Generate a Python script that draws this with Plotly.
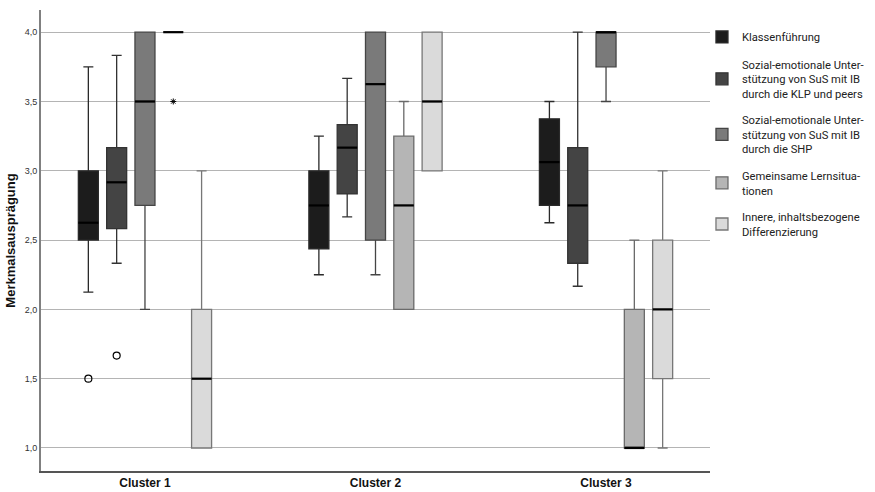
import plotly.graph_objects as go

clusters = ["Cluster 1", "Cluster 2", "Cluster 3"]
series_names = [
    "Klassenführung",
    "Sozial-emotionale Unter-<br>stützung von SuS mit IB<br>durch die KLP und peers",
    "Sozial-emotionale Unter-<br>stützung von SuS mit IB<br>durch die SHP",
    "Gemeinsame Lernsitua-<br>tionen",
    "Innere, inhaltsbezogene<br>Differenzierung",
]
fill_colors = ["#1c1c1c", "#444444", "#7a7a7a", "#b5b5b5", "#dadada"]
line_colors = ["#2a2a2a", "#333333", "#454545", "#6a6a6a", "#777777"]

# per series, values for Cluster 1, 2, 3
lower_whisker = [
    [2.125, 2.25, 2.625],
    [2.333, 2.667, 2.167],
    [2.0, 2.25, 3.5],
    [4.0, 2.0, 1.0],
    [1.0, 3.0, 1.0],
]
q1 = [
    [2.5, 2.4375, 2.75],
    [2.583, 2.833, 2.333],
    [2.75, 2.5, 3.75],
    [4.0, 2.0, 1.0],
    [1.0, 3.0, 1.5],
]
median = [
    [2.625, 2.75, 3.0625],
    [2.917, 3.167, 2.75],
    [3.5, 3.625, 4.0],
    [4.0, 2.75, 1.0],
    [1.5, 3.5, 2.0],
]
q3 = [
    [3.0, 3.0, 3.375],
    [3.167, 3.333, 3.167],
    [4.0, 4.0, 4.0],
    [4.0, 3.25, 2.0],
    [2.0, 4.0, 2.5],
]
upper_whisker = [
    [3.75, 3.25, 3.5],
    [3.833, 3.667, 4.0],
    [4.0, 4.0, 4.0],
    [4.0, 3.5, 2.5],
    [3.0, 4.0, 3.0],
]
# outliers: (cluster index, series index, value)
outlier_cluster = [0, 0]
outlier_series = [0, 1]
outlier_value = [1.5, 1.667]
extreme_cluster = [0]
extreme_series = [3]
extreme_value = [3.5]

ytick_vals = [1.0, 1.5, 2.0, 2.5, 3.0, 3.5, 4.0]

slot = 0.1228
box_w = 0.0868


def pos(ci, si):
    return ci + (si - 2) * slot


fig = go.Figure()
for si, name in enumerate(series_names):
    xs = [pos(ci, si) for ci in range(len(clusters))]
    fig.add_trace(go.Box(
        x=xs,
        q1=q1[si], median=median[si], q3=q3[si],
        lowerfence=lower_whisker[si], upperfence=upper_whisker[si],
        width=box_w, whiskerwidth=0.5,
        fillcolor=fill_colors[si],
        line=dict(color=line_colors[si], width=1.3),
        name=name, legendgroup="g%d" % si,
        boxpoints=False, hoverinfo="skip",
    ))

# median lines
for si in range(len(series_names)):
    mx, my = [], []
    for ci in range(len(clusters)):
        p = pos(ci, si)
        mx += [p - box_w / 2, p + box_w / 2, None]
        my += [median[si][ci], median[si][ci], None]
    fig.add_trace(go.Scatter(x=mx, y=my, mode="lines",
                             line=dict(color="#000000", width=2.2),
                             showlegend=False, hoverinfo="skip"))

fig.add_trace(go.Scatter(
    x=[pos(c, s) for c, s in zip(outlier_cluster, outlier_series)],
    y=outlier_value, mode="markers",
    marker=dict(symbol="circle-open", size=7, color="#000",
                line=dict(width=1.2, color="#000")),
    showlegend=False, hoverinfo="skip"))
fig.add_trace(go.Scatter(
    x=[pos(c, s) for c, s in zip(extreme_cluster, extreme_series)],
    y=extreme_value, mode="markers",
    marker=dict(symbol="asterisk-open", size=5, color="#000",
                line=dict(width=1, color="#000")),
    showlegend=False, hoverinfo="skip"))

fig.update_layout(
    width=875, height=492,
    margin=dict(l=41, r=165, t=10, b=21, autoexpand=False),
    paper_bgcolor="white", plot_bgcolor="white",
    separators=", ",
    font=dict(family="Arial, Liberation Sans, sans-serif", color="#222"),
    showlegend=True,
    legend=dict(
        x=0.988, xanchor="left", y=0.973, yanchor="top",
        font=dict(family="Roboto, sans-serif", size=11.2, color="#222"),
        tracegroupgap=9, itemwidth=30,
        bgcolor="rgba(0,0,0,0)",
    ),
    xaxis=dict(
        range=[-0.451, 2.451], showgrid=False, zeroline=False,
        showline=True, linecolor="#555", linewidth=1.5,
        tickvals=[0, 1, 2], ticktext=clusters, ticks="",
        tickfont=dict(size=12, weight="bold", color="#111"),
    ),
    yaxis=dict(
        range=[0.834, 4.16], tickvals=ytick_vals, tickformat=".1f",
        showgrid=True, gridcolor="#b4b4b4", gridwidth=1,
        zeroline=False, showline=True, linecolor="#808080", linewidth=2,
        ticks="", tickfont=dict(size=9, color="#333"),
        title=dict(text="Merkmalsausprägung", font=dict(size=13, weight="bold", color="#111"),
                   standoff=6),
    ),
)

fig.write_html("out.html")
